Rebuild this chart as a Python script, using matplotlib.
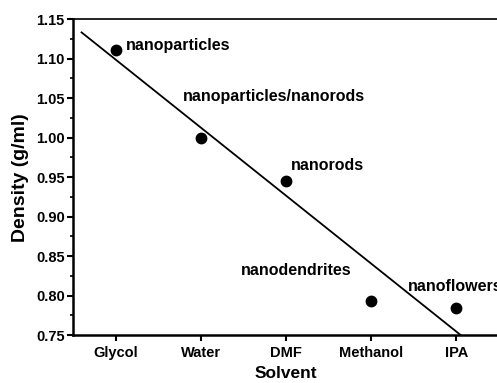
import matplotlib
matplotlib.use("Agg")
import matplotlib.pyplot as plt
import numpy as np
from matplotlib.ticker import MultipleLocator, FormatStrFormatter

plt.rcParams["font.family"] = ["Liberation Sans", "DejaVu Sans"]
plt.rcParams["font.weight"] = "bold"

solvents = ["Glycol", "Water", "DMF", "Methanol", "IPA"]
density = [1.111, 1.000, 0.945, 0.793, 0.784]
morphology = ["nanoparticles", "nanoparticles/nanorods", "nanorods", "nanodendrites", "nanoflowers"]

x = np.arange(1, len(solvents) + 1)

fig = plt.figure(figsize=(4.97, 3.83), dpi=100)
ax = fig.add_axes([0.147, 0.125, 0.857, 0.825])

ax.plot(x, density, "o", color="black", markersize=7.5, zorder=3)

# линейная аппроксимация
k, b = np.polyfit(x, density, 1)
xf = np.array([0.6, 5.05])
ax.plot(xf, k * xf + b, color="black", linewidth=1.3)

# подписи морфологии: смещения в пикселях от точки (левый край, центр по высоте)
offsets_px = [(10, 4), (-18, 41), (5, 16), (-130, 31), (-49, 22)]
for xi, yi, txt, (dx, dy) in zip(x, density, morphology, offsets_px):
    ax.annotate(txt, (xi, yi), xytext=(dx * 0.72, dy * 0.72), textcoords="offset points",
                fontsize=11.5, fontweight="bold", ha="left", va="center",
                annotation_clip=False)

ax.set_xlim(0.5, 5.5)
ax.set_ylim(0.75, 1.15)
ax.set_xticks(x)
ax.set_xticklabels(solvents)
ax.yaxis.set_major_locator(MultipleLocator(0.05))
ax.yaxis.set_minor_locator(MultipleLocator(0.025))
ax.yaxis.set_major_formatter(FormatStrFormatter("%.2f"))

ax.tick_params(axis="both", which="major", direction="out", length=4, width=1.5,
               labelsize=10.5, pad=2)
ax.tick_params(axis="y", which="minor", direction="out", length=2.5, width=1.2)
ax.tick_params(axis="x", pad=4)
for lbl in ax.get_xticklabels() + ax.get_yticklabels():
    lbl.set_fontweight("bold")

for s in ["left", "bottom"]:
    ax.spines[s].set_linewidth(1.8)
ax.spines["top"].set_linewidth(1.2)
ax.spines["right"].set_visible(False)

ax.set_xlabel("Solvent", fontsize=12.5, fontweight="bold", labelpad=4)
ax.set_ylabel("Density (g/ml)", fontsize=14, fontweight="bold", labelpad=5)

fig.savefig("out.png", dpi=100)
